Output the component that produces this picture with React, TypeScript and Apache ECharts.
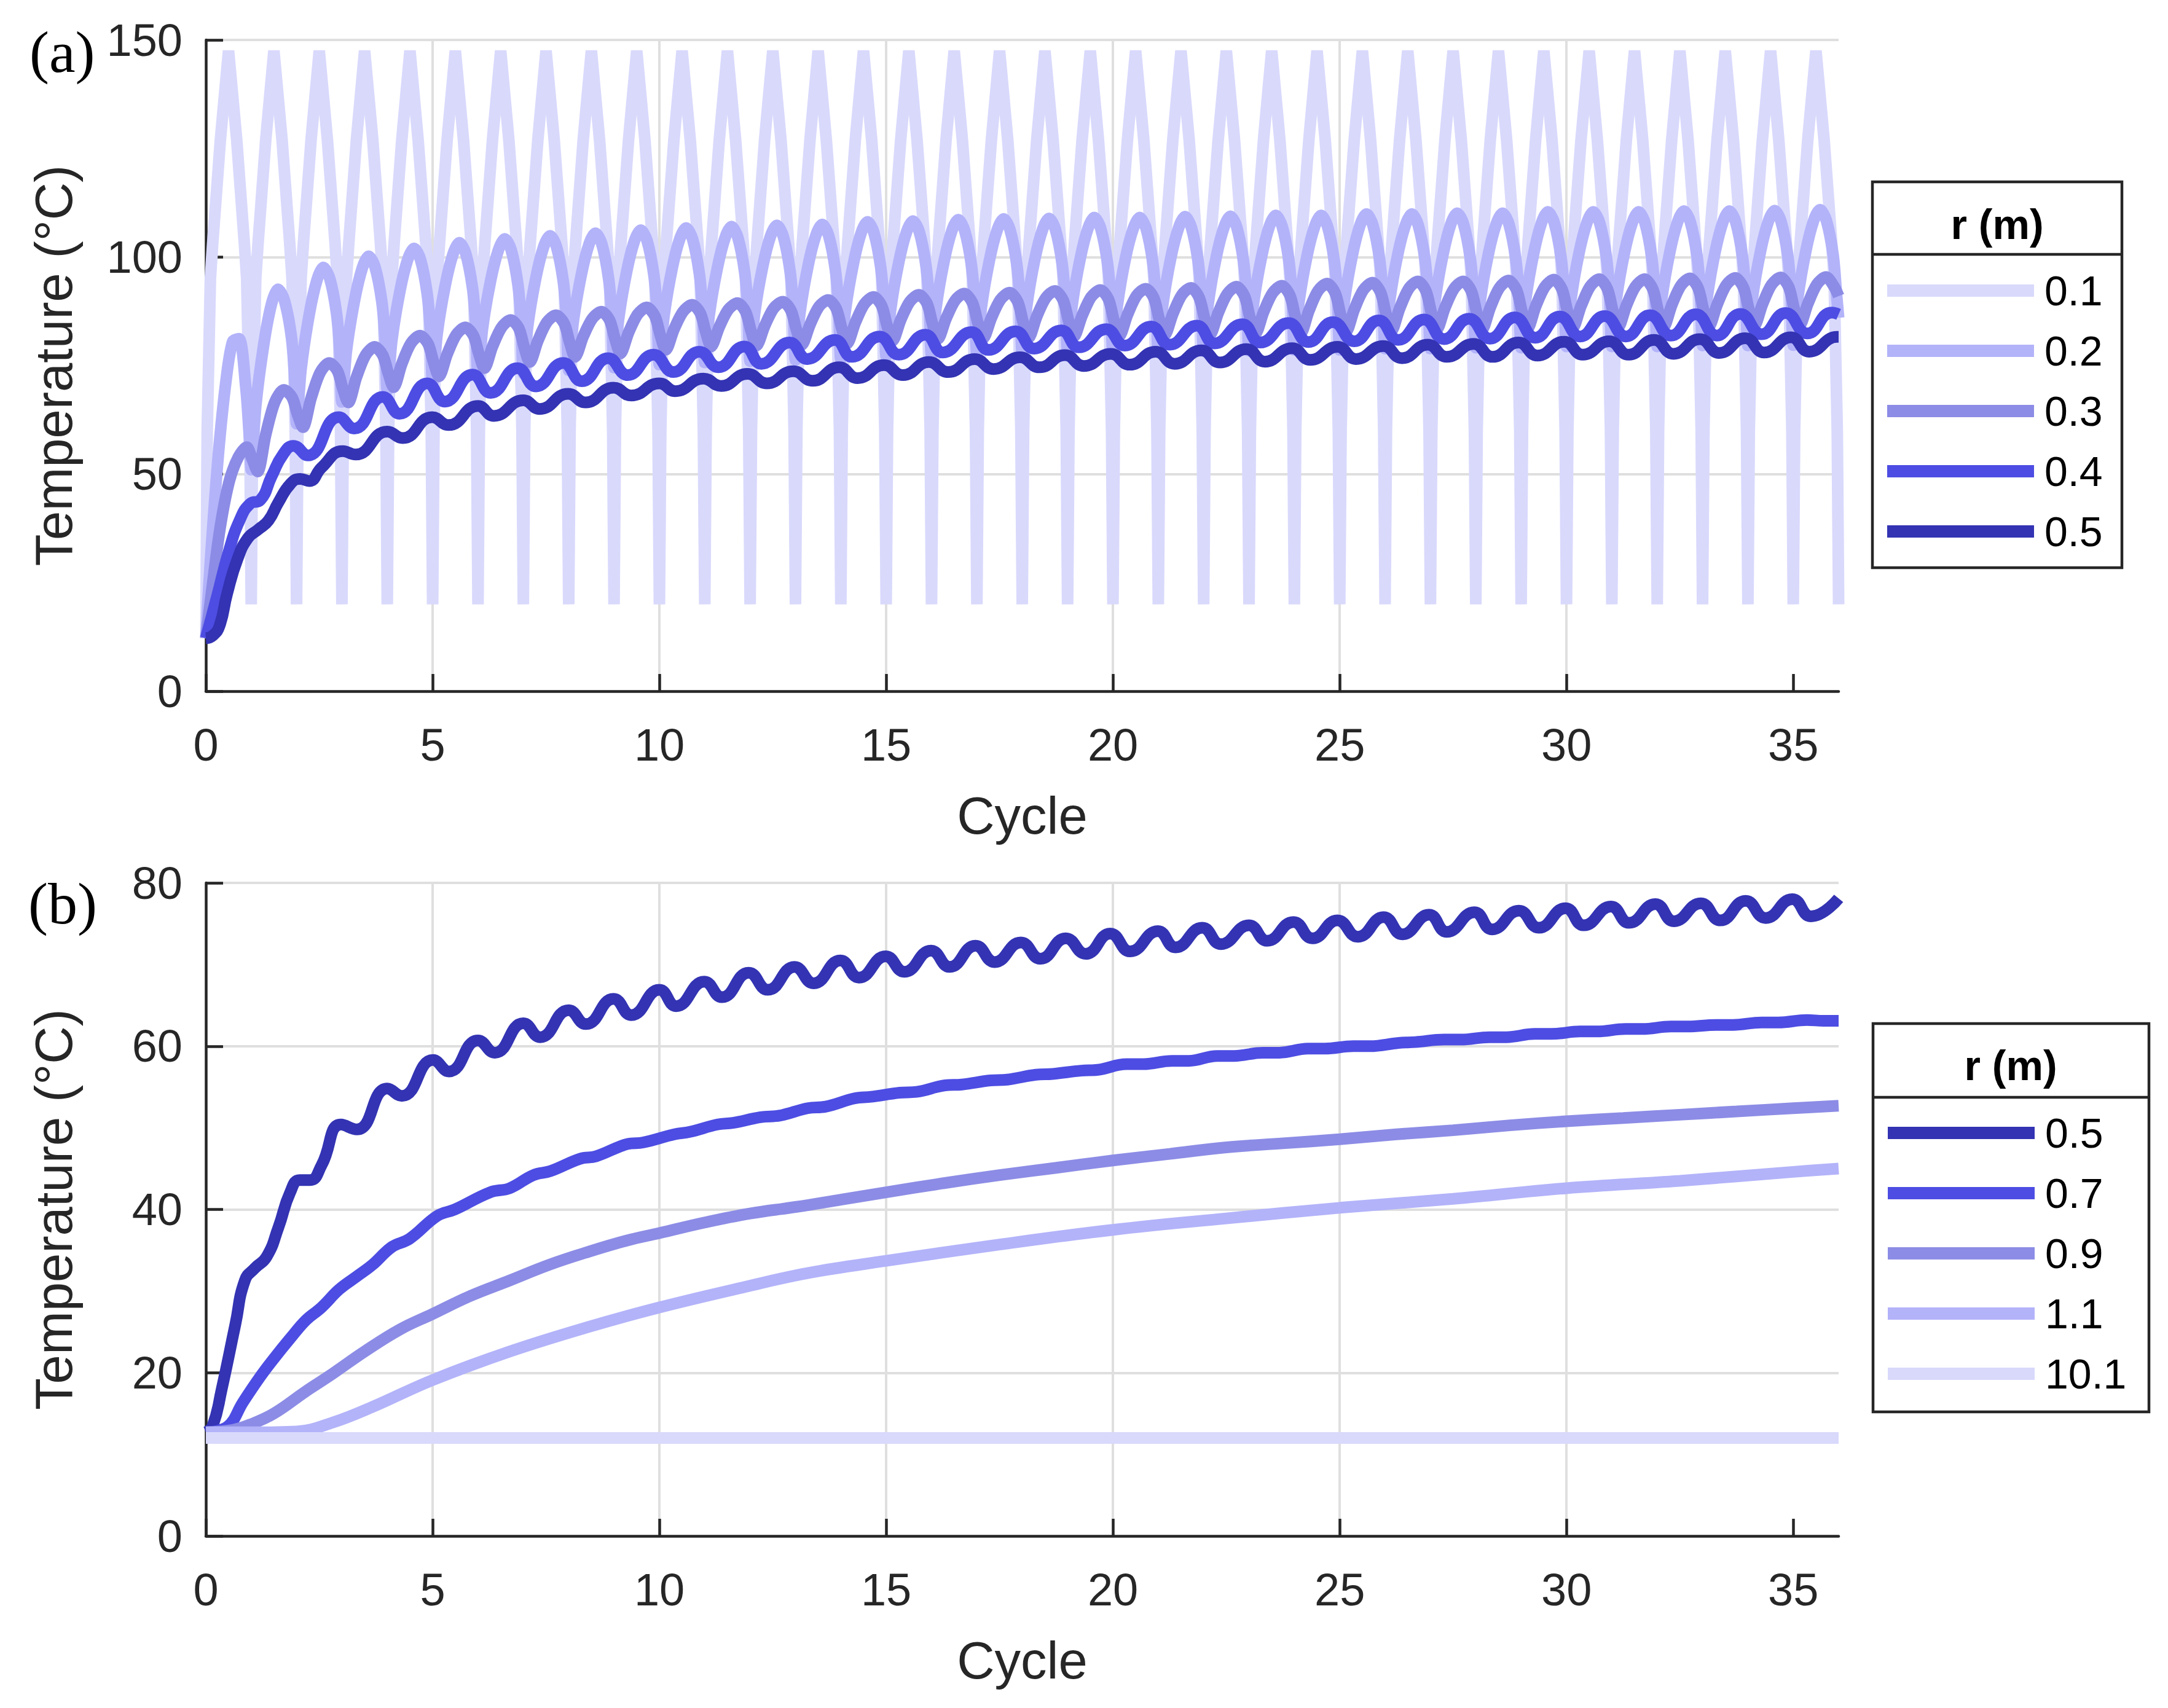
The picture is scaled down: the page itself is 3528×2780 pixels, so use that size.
import React, { useEffect, useRef } from 'react';
import * as echarts from 'echarts';

// ---------- axes / labels ----------
const cycleTicks = [0, 5, 10, 15, 20, 25, 30, 35];
const radiiA = ['0.1', '0.2', '0.3', '0.4', '0.5'];
const radiiB = ['0.5', '0.7', '0.9', '1.1', '10.1'];
const coloursA = ['#d9d9fc', '#b3b3fa', '#8c8ce6', '#4d4de3', '#3333b3'];
const coloursB = ['#3333b3', '#4d4de3', '#8c8ce6', '#b3b3fa', '#d9d9fc'];

// ---------- panel (a) ----------
// r = 0.1 m : samples within each cycle (cycle fraction) and read temperatures per cycle
const r01Offsets = [0, 0.03, 0.1, 0.15, 0.32, 0.5, 0.68, 0.85, 0.9, 0.97];
const r01Temps = [
  [12.2, 60, 95, 103, 127, 147.5, 127, 103, 95, 60],
  [20, 60, 95, 103, 127, 147.5, 127, 103, 95, 60],
  [20, 60, 95, 103, 127, 147.5, 127, 103, 95, 60],
  [20, 60, 95, 103, 127, 147.5, 127, 103, 95, 60],
  [20, 60, 95, 103, 127, 147.5, 127, 103, 95, 60],
  [20, 60, 95, 103, 127, 147.5, 127, 103, 95, 60],
  [20, 60, 95, 103, 127, 147.5, 127, 103, 95, 60],
  [20, 60, 95, 103, 127, 147.5, 127, 103, 95, 60],
  [20, 60, 95, 103, 127, 147.5, 127, 103, 95, 60],
  [20, 60, 95, 103, 127, 147.5, 127, 103, 95, 60],
  [20, 60, 95, 103, 127, 147.5, 127, 103, 95, 60],
  [20, 60, 95, 103, 127, 147.5, 127, 103, 95, 60],
  [20, 60, 95, 103, 127, 147.5, 127, 103, 95, 60],
  [20, 60, 95, 103, 127, 147.5, 127, 103, 95, 60],
  [20, 60, 95, 103, 127, 147.5, 127, 103, 95, 60],
  [20, 60, 95, 103, 127, 147.5, 127, 103, 95, 60],
  [20, 60, 95, 103, 127, 147.5, 127, 103, 95, 60],
  [20, 60, 95, 103, 127, 147.5, 127, 103, 95, 60],
  [20, 60, 95, 103, 127, 147.5, 127, 103, 95, 60],
  [20, 60, 95, 103, 127, 147.5, 127, 103, 95, 60],
  [20, 60, 95, 103, 127, 147.5, 127, 103, 95, 60],
  [20, 60, 95, 103, 127, 147.5, 127, 103, 95, 60],
  [20, 60, 95, 103, 127, 147.5, 127, 103, 95, 60],
  [20, 60, 95, 103, 127, 147.5, 127, 103, 95, 60],
  [20, 60, 95, 103, 127, 147.5, 127, 103, 95, 60],
  [20, 60, 95, 103, 127, 147.5, 127, 103, 95, 60],
  [20, 60, 95, 103, 127, 147.5, 127, 103, 95, 60],
  [20, 60, 95, 103, 127, 147.5, 127, 103, 95, 60],
  [20, 60, 95, 103, 127, 147.5, 127, 103, 95, 60],
  [20, 60, 95, 103, 127, 147.5, 127, 103, 95, 60],
  [20, 60, 95, 103, 127, 147.5, 127, 103, 95, 60],
  [20, 60, 95, 103, 127, 147.5, 127, 103, 95, 60],
  [20, 60, 95, 103, 127, 147.5, 127, 103, 95, 60],
  [20, 60, 95, 103, 127, 147.5, 127, 103, 95, 60],
  [20, 60, 95, 103, 127, 147.5, 127, 103, 95, 60],
  [20, 60, 95, 103, 127, 147.5, 127, 103, 95, 60],
];
const r01End = [36, 20];

// r = 0.2 m
const r02Offsets = [0, 0.1, 0.28, 0.45, 0.59, 0.73, 0.88, 0.95];
const r02Temps = [
  [12.2, 30, 55, 72, 80.5, 81.2, 70, 60],
  [51, 65.6, 80.1, 89.3, 92.6, 90.1, 82.1, 73.6],
  [61.6, 74.2, 86.8, 94.7, 97.6, 95.1, 87.1, 78.6],
  [66.6, 78.4, 90.1, 97.5, 100.2, 97.7, 89.7, 81.2],
  [69.2, 80.7, 92.2, 99.4, 102, 99.5, 91.5, 83],
  [71, 82.3, 93.6, 100.7, 103.3, 100.8, 92.8, 84.3],
  [72.3, 83.5, 94.6, 101.6, 104.2, 101.7, 93.7, 85.2],
  [73.2, 84.3, 95.4, 102.4, 104.9, 102.4, 94.4, 85.9],
  [73.9, 85, 96, 103, 105.5, 103, 95, 86.5],
  [74.5, 85.6, 96.7, 103.7, 106.2, 103.7, 95.7, 87.2],
  [75.2, 86.2, 97.3, 104.2, 106.7, 104.2, 96.2, 87.7],
  [75.7, 86.7, 97.6, 104.5, 107, 104.5, 96.5, 88],
  [76, 87, 97.9, 104.8, 107.3, 104.8, 96.8, 88.3],
  [76.3, 87.2, 98.1, 105, 107.5, 105, 97, 88.5],
  [76.5, 87.6, 98.6, 105.6, 108.1, 105.6, 97.6, 89.1],
  [77.1, 88, 98.9, 105.8, 108.3, 105.8, 97.8, 89.3],
  [77.3, 88.3, 99.2, 106.1, 108.6, 106.1, 98.1, 89.6],
  [77.6, 88.5, 99.4, 106.3, 108.8, 106.3, 98.3, 89.8],
  [77.8, 88.7, 99.6, 106.4, 108.9, 106.4, 98.4, 89.9],
  [77.9, 88.8, 99.7, 106.6, 109.1, 106.6, 98.6, 90.1],
  [78.1, 89, 99.9, 106.6, 109.1, 106.6, 98.6, 90.1],
  [78.1, 89, 100, 106.8, 109.3, 106.8, 98.8, 90.3],
  [78.3, 89.2, 100.1, 106.9, 109.4, 106.9, 98.9, 90.4],
  [78.4, 89.3, 100.2, 107.1, 109.6, 107.1, 99.1, 90.6],
  [78.6, 89.5, 100.3, 107.1, 109.6, 107.1, 99.1, 90.6],
  [78.6, 89.6, 100.5, 107.4, 109.9, 107.4, 99.4, 90.9],
  [78.9, 89.8, 100.6, 107.4, 109.9, 107.4, 99.4, 90.9],
  [78.9, 89.8, 100.7, 107.6, 110.1, 107.6, 99.6, 91.1],
  [79.1, 90, 100.8, 107.6, 110.1, 107.6, 99.6, 91.1],
  [79.1, 90.1, 101, 107.9, 110.4, 107.9, 99.9, 91.4],
  [79.4, 90.3, 101.1, 107.9, 110.4, 107.9, 99.9, 91.4],
  [79.4, 90.3, 101.1, 107.9, 110.4, 107.9, 99.9, 91.4],
  [79.4, 90.3, 101.2, 108.1, 110.6, 108.1, 100.1, 91.6],
  [79.6, 90.5, 101.3, 108.1, 110.6, 108.1, 100.1, 91.6],
  [79.6, 90.5, 101.4, 108.2, 110.7, 108.2, 100.2, 91.7],
  [79.7, 90.6, 101.5, 108.4, 110.9, 108.4, 100.4, 91.9],
];
const r02End = [36, 86];

// r = 0.3 m
const r03Start = [0, 12.2];
const r03Offsets = [0.02, 0.14, 0.32, 0.52, 0.72, 0.9];
const r03Temps = [
  [13.8, 24, 38, 48.5, 54, 56.2],
  [53.5, 50.6, 59.1, 66.6, 69.4, 67.7],
  [63.8, 60.8, 67.5, 73.4, 75.6, 73.8],
  [69.7, 66.5, 72.3, 77.4, 79.3, 77.4],
  [73.3, 70, 75.4, 80.1, 81.9, 80],
  [75.8, 72.5, 77.6, 82.1, 83.8, 81.9],
  [77.7, 74.4, 79.4, 83.8, 85.5, 83.6],
  [79.2, 75.8, 80.7, 85, 86.6, 84.7],
  [80.4, 77, 81.7, 85.8, 87.4, 85.5],
  [81.2, 77.8, 82.6, 86.8, 88.4, 86.4],
  [82, 78.6, 83.3, 87.4, 89, 87.1],
  [82.8, 79.4, 83.9, 87.9, 89.4, 87.4],
  [83, 79.6, 84.1, 88.2, 89.7, 87.7],
  [83.3, 79.8, 84.4, 88.6, 90.1, 88.1],
  [83.6, 80.1, 84.9, 89.2, 90.8, 88.8],
  [84.2, 80.7, 85.5, 89.7, 91.3, 89.3],
  [84.7, 81.1, 85.8, 90, 91.6, 89.5],
  [84.9, 81.3, 86, 90.2, 91.8, 89.7],
  [85, 81.4, 86.3, 90.6, 92.2, 90.1],
  [85.4, 81.7, 86.5, 90.8, 92.4, 90.3],
  [85.5, 81.8, 86.7, 91.1, 92.7, 90.6],
  [85.7, 82, 86.9, 91.3, 92.9, 90.7],
  [85.9, 82.1, 87.1, 91.5, 93.2, 91],
  [86.1, 82.3, 87.3, 91.7, 93.4, 91.2],
  [86.3, 82.4, 87.6, 92.2, 93.9, 91.7],
  [86.7, 82.8, 87.9, 92.4, 94.1, 91.9],
  [86.9, 83, 88.1, 92.7, 94.4, 92.2],
  [87.2, 83.3, 88.3, 92.7, 94.4, 92.2],
  [87.2, 83.3, 88.4, 92.9, 94.6, 92.4],
  [87.4, 83.5, 88.6, 93.1, 94.8, 92.6],
  [87.6, 83.7, 88.7, 93.2, 94.9, 92.7],
  [87.7, 83.8, 88.8, 93.2, 94.9, 92.7],
  [87.7, 83.8, 88.9, 93.4, 95.1, 92.9],
  [87.9, 84, 89, 93.5, 95.2, 93],
  [88, 84.1, 89.1, 93.6, 95.3, 93.1],
  [88.1, 84.2, 89.2, 93.7, 95.4, 93.2],
];
const r03End = [36, 91];

// r = 0.4 m : [cycle, temperature] at read turning points
const r04Points = [
  [0, 12.2], [0.25, 22], [0.5, 32], [0.75, 39.5], [0.98, 43.2], [1.2, 44], [1.45, 49.5], [1.7, 54.5],
  [1.93, 56.5], [2.25, 54.3], [2.93, 63.1], [3.27, 60.5], [3.9, 67.8], [4.27, 63.9], [4.88, 70.9],
  [5.27, 66.7], [5.88, 72.9], [6.28, 68.7], [6.87, 74.4], [7.28, 70.2], [7.88, 75.6], [8.29, 71.4],
  [8.87, 76.7], [9.3, 72.8], [9.87, 77.5], [10.31, 73.5], [10.88, 78.2], [11.3, 74.6], [11.87, 79.4],
  [12.25, 75.4], [12.87, 80.3], [13.26, 76.5], [13.87, 80.9], [14.25, 77], [14.85, 81.7], [15.28, 77.5],
  [15.86, 82.1], [16.25, 78], [16.88, 82.7], [17.26, 78.6], [17.85, 82.9], [18.26, 78.9], [18.86, 83.1],
  [19.25, 79.2], [19.85, 83.4], [20.26, 79.6], [20.84, 84], [21.25, 79.8], [21.85, 84.2], [22.24, 80.1],
  [22.85, 84.5], [23.25, 80.3], [23.87, 84.8], [24.31, 80.4], [24.85, 85], [25.32, 80.6], [25.86, 85.4],
  [26.29, 80.9], [26.86, 85.6], [27.3, 81.1], [27.85, 85.8], [28.31, 81.2], [28.86, 86.1], [29.31, 81.4],
  [29.85, 86.3], [30.3, 81.7], [30.84, 86.4], [31.31, 81.7], [31.84, 86.6], [32.3, 81.9], [32.85, 86.8],
  [33.31, 81.9], [33.83, 86.9], [34.3, 82.2], [34.83, 87.1], [35.31, 82.4], [35.85, 87.2], [36, 86.8],
];

// r = 0.5 m
const r05Points = [
  [0, 12.2], [0.15, 12.8], [0.3, 15], [0.47, 22.5], [0.7, 30.5], [0.93, 35.3], [1.15, 37.2], [1.38, 39.3],
  [1.6, 43.5], [1.87, 47.8], [2.08, 48.9], [2.28, 48.4], [2.55, 51.5], [3.02, 55.3], [3.3, 54.5],
  [4, 59.8], [4.34, 58.3], [4.99, 63.1], [5.35, 61.3], [6, 65.7], [6.35, 63.4], [7, 67], [7.36, 65],
  [7.99, 68.5], [8.37, 66.5], [8.99, 69.9], [9.38, 68.1], [10, 70.9], [10.35, 69.1], [10.97, 72],
  [11.36, 70.3], [11.94, 73.1], [12.37, 70.9], [12.95, 73.7], [13.38, 71.5], [13.96, 74.6], [14.37, 72.1],
  [14.95, 75.1], [15.37, 72.8], [15.94, 75.8], [16.37, 73.5], [16.95, 76.5], [17.37, 74.2], [17.95, 76.9],
  [18.38, 74.6], [18.94, 77.4], [19.36, 74.9], [19.95, 77.7], [20.37, 75.2], [20.94, 78.2], [21.36, 75.4],
  [21.95, 78.5], [22.36, 75.7], [22.94, 78.8], [23.35, 75.9], [23.95, 79], [24.35, 76.3], [24.95, 79.3],
  [25.36, 76.5], [25.96, 79.5], [26.37, 76.7], [26.94, 79.8], [27.36, 77], [27.95, 80], [28.37, 77],
  [28.94, 80.3], [29.36, 77.3], [29.95, 80.5], [30.36, 77.5], [30.94, 80.6], [31.37, 77.5], [31.93, 80.9],
  [32.36, 77.7], [32.94, 81.1], [33.37, 77.9], [33.94, 81.3], [34.36, 78], [34.95, 81.5], [35.35, 78.2],
  [35.97, 81.6], [36, 81.6],
];

// ---------- panel (b) ----------
const b05Points = [
  [0, 12.7], [0.15, 13.5], [0.35, 18], [0.65, 25.9], [0.86, 31.3], [1.08, 32.8], [1.34, 34.2], [1.6, 37.8],
  [1.86, 42.1], [2.07, 43.6], [2.3, 43.6], [2.55, 45.4], [2.98, 50.4], [3.33, 49.8], [4, 54.8], [4.32, 53.9],
  [5.01, 58.3], [5.36, 56.9], [6, 60.7], [6.37, 59.2], [7, 62.8], [7.37, 61.1], [8, 64.4], [8.38, 62.7],
  [8.99, 65.8], [9.38, 63.8], [10, 66.9], [10.37, 64.9], [10.99, 67.9], [11.38, 66], [11.97, 69],
  [12.39, 66.9], [12.98, 69.7], [13.4, 67.7], [13.99, 70.5], [14.4, 68.4], [14.99, 71], [15.4, 69.1],
  [15.99, 71.7], [16.4, 69.7], [16.97, 72.3], [17.39, 70.3], [17.97, 72.7], [18.4, 70.7], [18.96, 73.2],
  [19.4, 71.3], [19.94, 73.8], [20.38, 71.6], [20.99, 74.1], [21.38, 72.1], [21.97, 74.5], [22.38, 72.5],
  [23, 74.8], [23.4, 72.9], [23.98, 75.2], [24.4, 73.2], [24.95, 75.4], [25.4, 73.4], [25.97, 75.8],
  [26.38, 73.7], [26.97, 76.1], [27.36, 74], [27.97, 76.4], [28.36, 74.3], [28.95, 76.6], [29.39, 74.5],
  [29.98, 76.9], [30.38, 74.8], [30.98, 77.1], [31.38, 75.1], [31.96, 77.4], [32.37, 75.3], [32.96, 77.5],
  [33.39, 75.4], [33.95, 77.8], [34.39, 75.7], [34.98, 78], [35.39, 75.9], [36, 78.1],
];
const b07Points = [
  [0, 12.7], [0.48, 13.4], [0.82, 16.4], [1.21, 19.6], [1.51, 21.8], [1.86, 24.2], [2.2, 26.4], [2.55, 28],
  [2.94, 30.2], [3.33, 31.8], [3.67, 33.2], [4.1, 35.4], [4.49, 36.4], [5.1, 39.2], [5.49, 40], [6.27, 42.1],
  [6.7, 42.6], [7.22, 44.2], [7.6, 44.7], [8.25, 46.2], [8.6, 46.5], [9.29, 48], [9.64, 48.2], [10.33, 49.2],
  [10.67, 49.5], [11.28, 50.4], [11.62, 50.6], [12.23, 51.3], [12.66, 51.5], [13.27, 52.4], [13.67, 52.6],
  [14.3, 53.6], [14.67, 53.8], [15.3, 54.3], [15.67, 54.4], [16.3, 55.2], [16.67, 55.3], [17.3, 55.8],
  [17.67, 55.9], [18.3, 56.5], [18.67, 56.6], [19.3, 57], [19.67, 57.1], [20.3, 57.8], [20.67, 57.8],
  [21.3, 58.2], [21.67, 58.2], [22.3, 58.8], [22.67, 58.8], [23.3, 59.2], [23.67, 59.2], [24.3, 59.7],
  [24.67, 59.7], [25.3, 60], [25.67, 60], [26.3, 60.4], [26.67, 60.5], [27.3, 60.8], [27.67, 60.8],
  [28.3, 61.1], [28.67, 61.1], [29.3, 61.5], [29.67, 61.5], [30.3, 61.8], [30.67, 61.8], [31.3, 62.1],
  [31.67, 62.1], [32.3, 62.4], [32.67, 62.4], [33.3, 62.6], [33.67, 62.6], [34.3, 62.9], [34.67, 62.9],
  [35.3, 63.2], [35.67, 63.1], [36, 63.1],
];
const b09Points = [
  [0, 12.7], [0.6, 13], [1, 13.7], [1.5, 15], [2.2, 17.7], [2.8, 19.9], [3.5, 22.6], [4.28, 25.3], [5, 27.2],
  [5.83, 29.4], [6.7, 31.3], [7.56, 33.2], [8.43, 34.8], [9.29, 36.2], [10, 37.1], [11, 38.4], [12, 39.5],
  [13, 40.3], [14, 41.2], [15, 42.1], [16.25, 43.2], [17.5, 44.2], [18.75, 45.1], [20, 46], [21.25, 46.8],
  [22.5, 47.6], [23.75, 48.1], [25, 48.6], [26.25, 49.2], [27.5, 49.7], [28.75, 50.3], [30, 50.8],
  [31.25, 51.2], [32.5, 51.6], [33.75, 52], [35, 52.4], [36, 52.7],
];
const b11Points = [
  [0, 12.7], [1, 12.7], [2, 12.8], [2.8, 13.9], [3.67, 15.8], [5, 19.1], [6.7, 22.6], [8.43, 25.6],
  [10, 28], [11.88, 30.5], [13.27, 32.2], [15, 33.7], [17.5, 35.7], [20, 37.5], [22.5, 38.9], [25, 40.2],
  [27.5, 41.3], [30, 42.6], [32.5, 43.5], [35, 44.6], [36, 45],
];
const b101Points = [[0, 12], [36, 12]];

// ---------- build helpers ----------
function fromCycles(offsets: number[], rows: number[][], start?: number[], end?: number[]) {
  const pts: number[][] = [];
  if (start) pts.push(start);
  rows.forEach((row, n) => row.forEach((v, i) => pts.push([n + offsets[i], v])));
  if (end) pts.push(end);
  return pts;
}

const FONT = 'Liberation Sans, Arial, sans-serif';
const INK = '#262626';

function lineSeries(name: string, color: string, data: number[][], axis: number, smooth: number | boolean) {
  return {
    type: 'line',
    name,
    data,
    xAxisIndex: axis,
    yAxisIndex: axis,
    showSymbol: false,
    symbol: 'none',
    smooth,
    clip: false,
    silent: true,
    lineStyle: { width: 19, color, join: 'bevel', cap: 'butt' },
    itemStyle: { color },
    emphasis: { disabled: true },
  };
}

function xAxisCfg(grid: number) {
  return {
    type: 'value',
    gridIndex: grid,
    min: 0,
    max: 36,
    interval: 5,
    name: 'Cycle',
    nameLocation: 'middle',
    nameGap: 160,
    nameTextStyle: { fontSize: 85, color: INK, fontFamily: FONT },
    axisLine: { show: true, onZero: false, lineStyle: { color: INK, width: 4.5 } },
    axisTick: { show: true, inside: true, length: 28, lineStyle: { color: INK, width: 4.5 }, customValues: cycleTicks },
    axisLabel: { fontSize: 74, color: INK, fontFamily: FONT, margin: 50, customValues: cycleTicks },
    splitLine: { show: true, showMinLine: false, showMaxLine: false, lineStyle: { color: '#dfdfdf', width: 4 } },
  };
}

function yAxisCfg(grid: number, max: number, interval: number) {
  return {
    type: 'value',
    gridIndex: grid,
    min: 0,
    max,
    interval,
    name: 'Temperature (°C)',
    nameLocation: 'middle',
    nameGap: 205,
    nameTextStyle: { fontSize: 85, color: INK, fontFamily: FONT },
    axisLine: { show: true, onZero: false, lineStyle: { color: INK, width: 4.5 } },
    axisTick: { show: true, inside: true, length: 28, lineStyle: { color: INK, width: 4.5 } },
    axisLabel: { fontSize: 74, color: INK, fontFamily: FONT, margin: 38 },
    splitLine: { show: true, showMinLine: false, lineStyle: { color: '#dfdfdf', width: 4 } },
  };
}

function legendCfg(names: string[], left: number, top: number) {
  return {
    orient: 'vertical',
    left,
    top,
    padding: 0,
    itemWidth: 239,
    itemHeight: 20,
    itemGap: 30,
    icon: 'rect',
    selectedMode: false,
    data: names,
    textStyle: { fontSize: 68, lineHeight: 68, color: '#000', fontFamily: FONT, padding: [0, 0, 0, 12] },
  };
}

function legendFrame(x: number, y: number, w: number, h: number, divY: number, titleX: number, titleY: number) {
  return [
    { type: 'rect', shape: { x, y, width: w, height: h }, style: { fill: 'none', stroke: INK, lineWidth: 4.5 }, z: 100 },
    { type: 'line', shape: { x1: x, y1: divY, x2: x + w, y2: divY }, style: { stroke: INK, lineWidth: 4.5 }, z: 100 },
    {
      type: 'text', x: titleX, y: titleY, z: 100,
      style: { text: 'r (m)', fontSize: 68, fontWeight: 'bold', fontFamily: FONT, fill: '#000', align: 'center', verticalAlign: 'middle' },
    },
  ];
}

export default function App() {
  const ref = useRef<HTMLDivElement>(null);
  useEffect(() => {
    if (!ref.current) return;
    const chart = echarts.init(ref.current, undefined, { renderer: 'svg' });
    const r01 = fromCycles(r01Offsets, r01Temps, undefined, r01End);
    const r02 = fromCycles(r02Offsets, r02Temps, undefined, r02End);
    const r03 = fromCycles(r03Offsets, r03Temps, r03Start, r03End);
    chart.setOption({
      animation: false,
      backgroundColor: '#ffffff',
      grid: [
        { left: 335, top: 65, width: 2657, height: 1060, containLabel: false },
        { left: 335, top: 1437, width: 2657, height: 1063, containLabel: false },
      ],
      xAxis: [xAxisCfg(0), xAxisCfg(1)],
      yAxis: [yAxisCfg(0, 150, 50), yAxisCfg(1, 80, 20)],
      legend: [legendCfg(radiiA, 3071, 439), legendCfg(radiiB, 3072, 1810)],
      graphic: [
        ...legendFrame(3047, 296, 406, 628, 414, 3250, 365),
        ...legendFrame(3048, 1666, 449, 632, 1786, 3272, 1734),
        {
          type: 'text', x: 48, y: 84,
          style: { text: '(a)', fontSize: 96, fontFamily: 'Liberation Serif, Times New Roman, serif', fill: '#000', align: 'left', verticalAlign: 'middle' },
        },
        {
          type: 'text', x: 46, y: 1470,
          style: { text: '(b)', fontSize: 96, fontFamily: 'Liberation Serif, Times New Roman, serif', fill: '#000', align: 'left', verticalAlign: 'middle' },
        },
      ],
      series: [
        lineSeries(radiiA[0], coloursA[0], r01, 0, false),
        lineSeries(radiiA[1], coloursA[1], r02, 0, 0.3),
        lineSeries(radiiA[2], coloursA[2], r03, 0, 0.3),
        lineSeries(radiiA[3], coloursA[3], r04Points, 0, 0.5),
        lineSeries(radiiA[4], coloursA[4], r05Points, 0, 0.5),
        lineSeries(radiiB[0], coloursB[0], b05Points, 1, 0.5),
        lineSeries(radiiB[1], coloursB[1], b07Points, 1, 0.4),
        lineSeries(radiiB[2], coloursB[2], b09Points, 1, 0.4),
        lineSeries(radiiB[3], coloursB[3], b11Points, 1, 0.4),
        lineSeries(radiiB[4], coloursB[4], b101Points, 1, false),
      ],
    });
    return () => chart.dispose();
  }, []);
  return <div ref={ref} style={{ position: 'absolute', left: 0, top: 0, width: 3528, height: 2780 }} />;
}
